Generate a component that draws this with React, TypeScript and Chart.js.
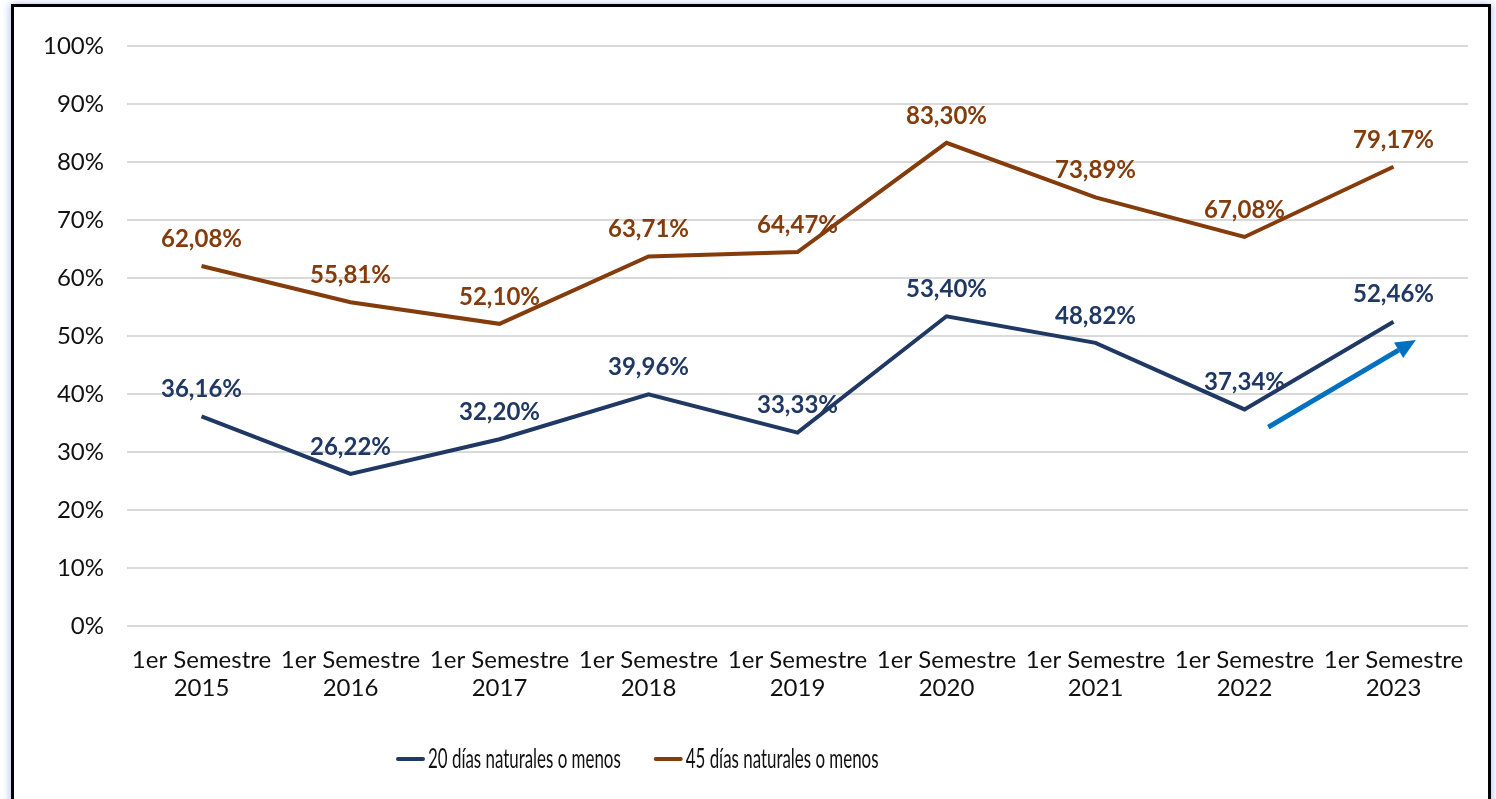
import React, { useEffect, useRef } from "react";
import { Chart, registerables } from "chart.js";

Chart.register(...registerables);

const categories: string[][] = [
  ["1er Semestre", "2015"],
  ["1er Semestre", "2016"],
  ["1er Semestre", "2017"],
  ["1er Semestre", "2018"],
  ["1er Semestre", "2019"],
  ["1er Semestre", "2020"],
  ["1er Semestre", "2021"],
  ["1er Semestre", "2022"],
  ["1er Semestre", "2023"],
];

const serie20: number[] = [36.16, 26.22, 32.2, 39.96, 33.33, 53.4, 48.82, 37.34, 52.46];
const serie45: number[] = [62.08, 55.81, 52.1, 63.71, 64.47, 83.3, 73.89, 67.08, 79.17];

const seriesNames: string[] = ["20 días naturales o menos", "45 días naturales o menos"];

const yTicks: number[] = [0, 10, 20, 30, 40, 50, 60, 70, 80, 90, 100];

// Arrow annotation in data space: [categoryIndex, value]
const arrowStart: number[] = [7.16, 34.3];
const arrowEnd: number[] = [8.15, 49.3];

const NAVY = "#203864";
const BROWN = "#843C0C";
const ARROW = "#0070C0";
const FONT = "Lato, 'Open Sans', sans-serif";

const fmt = (v: number) => v.toFixed(2).replace(".", ",") + "%";

const labelPlugin = {
  id: "pointLabels",
  afterDatasetsDraw(chart: any) {
    const ctx = chart.ctx;
    ctx.save();
    ctx.font = `bold 24px ${FONT}`;
    ctx.textAlign = "center";
    ctx.textBaseline = "middle";
    chart.data.datasets.forEach((ds: any, i: number) => {
      const meta = chart.getDatasetMeta(i);
      ctx.fillStyle = ds.borderColor;
      meta.data.forEach((pt: any, j: number) => {
        ctx.fillText(fmt(ds.data[j]), pt.x, pt.y - 27);
      });
    });
    ctx.restore();
  },
};

const arrowPlugin = {
  id: "arrowAnno",
  afterDatasetsDraw(chart: any) {
    const xs = chart.scales.x;
    const ys = chart.scales.y;
    const x1 = xs.getPixelForValue(arrowStart[0]);
    const y1 = ys.getPixelForValue(arrowStart[1]);
    const x2 = xs.getPixelForValue(arrowEnd[0]);
    const y2 = ys.getPixelForValue(arrowEnd[1]);
    const ang = Math.atan2(y2 - y1, x2 - x1);
    const head = 20;
    const hw = 9;
    const bx = x2 - head * Math.cos(ang);
    const by = y2 - head * Math.sin(ang);
    const ctx = chart.ctx;
    ctx.save();
    ctx.strokeStyle = ARROW;
    ctx.fillStyle = ARROW;
    ctx.lineWidth = 5;
    ctx.beginPath();
    ctx.moveTo(x1, y1);
    ctx.lineTo(bx, by);
    ctx.stroke();
    ctx.beginPath();
    ctx.moveTo(x2, y2);
    ctx.lineTo(bx + hw * Math.sin(ang), by - hw * Math.cos(ang));
    ctx.lineTo(bx - hw * Math.sin(ang), by + hw * Math.cos(ang));
    ctx.closePath();
    ctx.fill();
    ctx.restore();
  },
};

// Condensed legend (Excel-style narrow text)
const LEGEND_LEFT = 396;
const LEGEND_Y = 759;
const LEGEND_LINE = 29;
const LEGEND_GAP_TEXT = 3;
const LEGEND_GAP_ITEM = 33;
const LEGEND_SQUEEZE = 0.65;

const legendPlugin = {
  id: "condensedLegend",
  afterDraw(chart: any) {
    const ctx = chart.ctx;
    ctx.save();
    ctx.font = `26px ${FONT}`;
    ctx.textBaseline = "middle";
    ctx.textAlign = "left";
    let x = LEGEND_LEFT;
    chart.data.datasets.forEach((ds: any) => {
      ctx.strokeStyle = ds.borderColor;
      ctx.lineWidth = 4;
      ctx.lineCap = "round";
      ctx.beginPath();
      ctx.moveTo(x + 2, LEGEND_Y);
      ctx.lineTo(x + LEGEND_LINE - 2, LEGEND_Y);
      ctx.stroke();
      x += LEGEND_LINE + LEGEND_GAP_TEXT;
      const w = ctx.measureText(ds.label).width * LEGEND_SQUEEZE;
      ctx.save();
      ctx.translate(x, LEGEND_Y);
      ctx.scale(LEGEND_SQUEEZE, 1);
      ctx.fillStyle = "#111";
      ctx.fillText(ds.label, 0, 1);
      ctx.restore();
      x += w + LEGEND_GAP_ITEM;
    });
    ctx.restore();
  },
};

export default function App() {
  const ref = useRef<HTMLCanvasElement | null>(null);

  useEffect(() => {
    if (!ref.current) return;
    const chart = new Chart(ref.current, {
      type: "line",
      data: {
        labels: categories,
        datasets: [
          {
            label: seriesNames[0],
            data: serie20,
            borderColor: NAVY,
            backgroundColor: NAVY,
            borderWidth: 4,
            pointRadius: 0,
            tension: 0,
          },
          {
            label: seriesNames[1],
            data: serie45,
            borderColor: BROWN,
            backgroundColor: BROWN,
            borderWidth: 4,
            pointRadius: 0,
            tension: 0,
          },
        ],
      },
      options: {
        responsive: false,
        animation: false,
        layout: { padding: { left: 0, right: 28, top: 46, bottom: 0 } },
        plugins: {
          tooltip: { enabled: false },
          legend: { display: false },
        },
        scales: {
          x: {
            type: "category",
            offset: true,
            grid: { display: false, drawTicks: false },
            border: { display: false },
            ticks: {
              color: "#111",
              padding: 20,
              maxRotation: 0,
              autoSkip: false,
              font: { family: FONT, size: 24, lineHeight: 1.17 },
            },
            afterFit: (s: any) => {
              s.height = 173;
            },
          },
          y: {
            min: 0,
            max: 100,
            afterBuildTicks: (s: any) => {
              s.ticks = yTicks.map((v) => ({ value: v }));
            },
            grid: { color: "#d9d9d9", lineWidth: 2, drawTicks: false },
            border: { display: false },
            ticks: {
              color: "#111",
              padding: 23,
              font: { family: FONT, size: 24 },
              callback: (v: any) => v + "%",
            },
            afterFit: (s: any) => {
              s.width = 127;
            },
          },
        },
      },
      plugins: [labelPlugin, arrowPlugin, legendPlugin],
    });
    return () => chart.destroy();
  }, []);

  return (
    <div style={{ position: "absolute", left: 0, top: 0, width: 1496, height: 799, overflow: "hidden", background: "#fff" }}>
      <div
        style={{
          position: "absolute",
          left: 11,
          top: 4,
          width: 1480,
          height: 900,
          border: "3px solid #000",
          boxSizing: "border-box",
          boxShadow: "-3px 0 6px rgba(120,150,220,0.35), 3px 0 6px rgba(120,150,220,0.35)",
          background: "#fff",
        }}
      />
      <canvas ref={ref} width={1496} height={799} style={{ position: "absolute", left: 0, top: 0 }} />
    </div>
  );
}
